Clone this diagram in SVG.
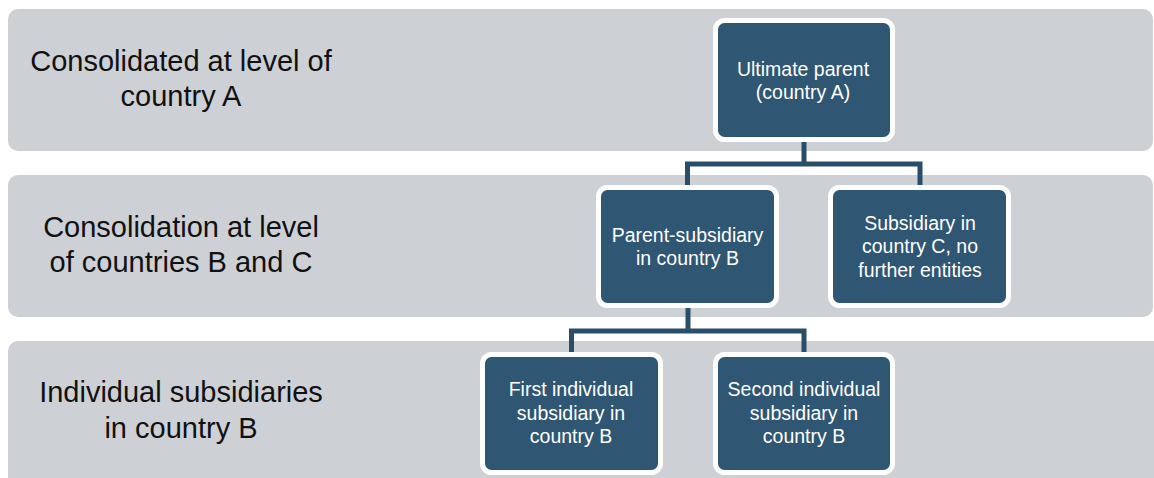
<svg xmlns="http://www.w3.org/2000/svg" width="1154" height="478" viewBox="0 0 1154 478">
<style>
.band{fill:#CDD0D5}
.box{fill:#2F5673;stroke:#FFFFFF;stroke-width:5}
.lbl{font-family:"Liberation Sans",Arial,sans-serif;font-size:29px;fill:#111111;text-anchor:middle}
.btx{font-family:"Liberation Sans",Arial,sans-serif;font-size:19.5px;fill:#FFFFFF;text-anchor:middle}
.con{fill:none;stroke:#2B4E68;stroke-width:5;stroke-linejoin:miter}
</style>
<rect width="1154" height="478" fill="#FFFFFF"/>
<g id="bands">
<rect class="band" x="8" y="9" width="1145" height="142" rx="10"/>
<rect class="band" x="8" y="175" width="1145" height="142" rx="10"/>
<rect class="band" x="8" y="341" width="1160" height="160" rx="10"/>
</g>
<g id="labels">
<text class="lbl" x="181" y="71">Consolidated at level of</text>
<text class="lbl" x="181" y="106">country A</text>
<text class="lbl" x="181" y="237">Consolidation at level</text>
<text class="lbl" x="181" y="272">of countries B and C</text>
<text class="lbl" x="181" y="402">Individual subsidiaries</text>
<text class="lbl" x="181" y="438">in country B</text>
</g>
<g id="connectors">
<polyline class="con" points="804,142 804,164"/>
<polyline class="con" points="687.5,186 687.5,164 920,164 920,186"/>
<polyline class="con" points="688,308 688,331"/>
<polyline class="con" points="571.5,353 571.5,331 804,331 804,353"/>
</g>
<g id="node-ultimate">
<rect class="box" x="715.5" y="20.5" width="177" height="119" rx="9"/>
<text class="btx" x="803" y="76">Ultimate parent</text>
<text class="btx" x="803" y="99">(country A)</text>
</g>
<g id="node-parent-sub">
<rect class="box" x="598.5" y="187.5" width="178" height="118" rx="9"/>
<text class="btx" x="687.5" y="242">Parent-subsidiary</text>
<text class="btx" x="687.5" y="265">in country B</text>
</g>
<g id="node-sub-c">
<rect class="box" x="830.5" y="187.5" width="178" height="118" rx="9"/>
<text class="btx" x="920" y="230">Subsidiary in</text>
<text class="btx" x="920" y="253">country C, no</text>
<text class="btx" x="920" y="276.5">further entities</text>
</g>
<g id="node-first">
<rect class="box" x="482.5" y="354.5" width="178" height="118" rx="9"/>
<text class="btx" x="571" y="396">First individual</text>
<text class="btx" x="571" y="419.5">subsidiary in</text>
<text class="btx" x="571" y="443">country B</text>
</g>
<g id="node-second">
<rect class="box" x="715.5" y="354.5" width="177" height="118" rx="9"/>
<text class="btx" x="804" y="396">Second individual</text>
<text class="btx" x="804" y="419.5">subsidiary in</text>
<text class="btx" x="804" y="443">country B</text>
</g>
</svg>
